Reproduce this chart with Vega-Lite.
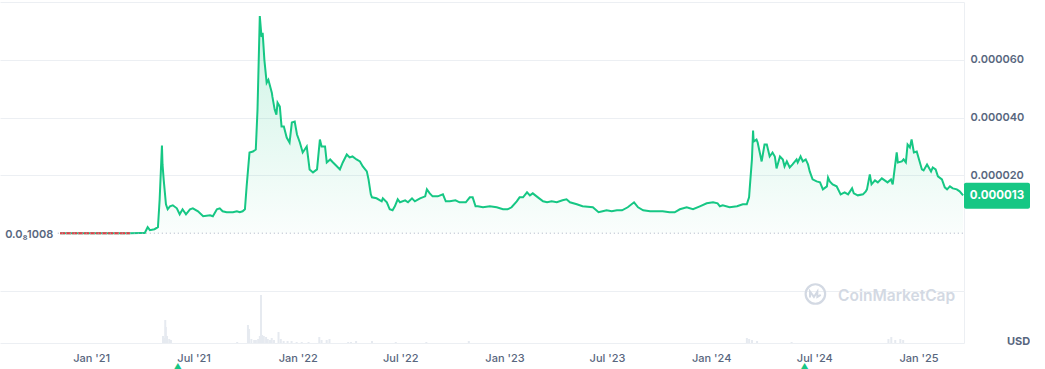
{
  "$schema": "https://vega.github.io/schema/vega-lite/v6.json",
  "padding": {"left": 0, "top": 2, "right": 0, "bottom": 0},
  "background": "white",
  "spacing": 0,
  "bounds": "flush",
  "config": {"view": {"stroke": null}, "font": "Inter"},
  "datasets": {
    "price": [
      {"date": "2020-11-15", "price": 1.008e-9},
      {"date": "2020-12-20", "price": 9.9e-10},
      {"date": "2021-01-23", "price": 1.0e-9},
      {"date": "2021-02-27", "price": 9.9e-10},
      {"date": "2021-03-17", "price": 1.0e-9},
      {"date": "2021-04-03", "price": 4e-8},
      {"date": "2021-04-12", "price": 1e-7},
      {"date": "2021-04-17", "price": 2.07e-6},
      {"date": "2021-04-21", "price": 1.03e-6},
      {"date": "2021-04-29", "price": 1.38e-6},
      {"date": "2021-05-05", "price": 2.07e-6},
      {"date": "2021-05-08", "price": 1.172e-5},
      {"date": "2021-05-12", "price": 3.034e-5},
      {"date": "2021-05-13", "price": 2.379e-5},
      {"date": "2021-05-15", "price": 1.862e-5},
      {"date": "2021-05-19", "price": 1.0e-5},
      {"date": "2021-05-22", "price": 8.28e-6},
      {"date": "2021-05-26", "price": 9.31e-6},
      {"date": "2021-05-31", "price": 9.65e-6},
      {"date": "2021-06-07", "price": 8.62e-6},
      {"date": "2021-06-12", "price": 6.55e-6},
      {"date": "2021-06-17", "price": 8.28e-6},
      {"date": "2021-06-23", "price": 6.55e-6},
      {"date": "2021-06-30", "price": 8.28e-6},
      {"date": "2021-07-05", "price": 8.62e-6},
      {"date": "2021-07-14", "price": 7.59e-6},
      {"date": "2021-07-23", "price": 5.86e-6},
      {"date": "2021-08-04", "price": 6.21e-6},
      {"date": "2021-08-09", "price": 5.86e-6},
      {"date": "2021-08-16", "price": 8.28e-6},
      {"date": "2021-08-21", "price": 8.62e-6},
      {"date": "2021-08-26", "price": 7.59e-6},
      {"date": "2021-09-02", "price": 7.24e-6},
      {"date": "2021-09-13", "price": 7.24e-6},
      {"date": "2021-09-20", "price": 7.59e-6},
      {"date": "2021-09-25", "price": 7.24e-6},
      {"date": "2021-09-30", "price": 7.59e-6},
      {"date": "2021-10-04", "price": 8.28e-6},
      {"date": "2021-10-07", "price": 1.621e-5},
      {"date": "2021-10-12", "price": 2.793e-5},
      {"date": "2021-10-18", "price": 2.827e-5},
      {"date": "2021-10-23", "price": 2.896e-5},
      {"date": "2021-10-26", "price": 4.276e-5},
      {"date": "2021-10-30", "price": 7.517e-5},
      {"date": "2021-11-02", "price": 6.793e-5},
      {"date": "2021-11-04", "price": 6.931e-5},
      {"date": "2021-11-07", "price": 6.0e-5},
      {"date": "2021-11-11", "price": 5.207e-5},
      {"date": "2021-11-14", "price": 5.31e-5},
      {"date": "2021-11-20", "price": 4.862e-5},
      {"date": "2021-11-21", "price": 4.724e-5},
      {"date": "2021-11-25", "price": 4.276e-5},
      {"date": "2021-11-28", "price": 4.103e-5},
      {"date": "2021-11-30", "price": 4.517e-5},
      {"date": "2021-12-04", "price": 4.379e-5},
      {"date": "2021-12-07", "price": 3.69e-5},
      {"date": "2021-12-11", "price": 3.69e-5},
      {"date": "2021-12-16", "price": 3.31e-5},
      {"date": "2021-12-21", "price": 3.138e-5},
      {"date": "2021-12-25", "price": 3.827e-5},
      {"date": "2021-12-30", "price": 3.862e-5},
      {"date": "2022-01-03", "price": 3.414e-5},
      {"date": "2022-01-08", "price": 3.138e-5},
      {"date": "2022-01-13", "price": 2.793e-5},
      {"date": "2022-01-20", "price": 3.0e-5},
      {"date": "2022-01-25", "price": 2.207e-5},
      {"date": "2022-01-31", "price": 2.103e-5},
      {"date": "2022-02-07", "price": 2.207e-5},
      {"date": "2022-02-12", "price": 3.241e-5},
      {"date": "2022-02-15", "price": 3.0e-5},
      {"date": "2022-02-21", "price": 3.0e-5},
      {"date": "2022-02-24", "price": 2.448e-5},
      {"date": "2022-03-02", "price": 2.552e-5},
      {"date": "2022-03-07", "price": 2.448e-5},
      {"date": "2022-03-14", "price": 2.31e-5},
      {"date": "2022-03-19", "price": 2.207e-5},
      {"date": "2022-03-24", "price": 2.448e-5},
      {"date": "2022-03-31", "price": 2.724e-5},
      {"date": "2022-04-05", "price": 2.621e-5},
      {"date": "2022-04-10", "price": 2.655e-5},
      {"date": "2022-04-17", "price": 2.552e-5},
      {"date": "2022-04-23", "price": 2.483e-5},
      {"date": "2022-04-28", "price": 2.31e-5},
      {"date": "2022-05-05", "price": 2.138e-5},
      {"date": "2022-05-08", "price": 1.862e-5},
      {"date": "2022-05-12", "price": 1.345e-5},
      {"date": "2022-05-14", "price": 1.241e-5},
      {"date": "2022-05-22", "price": 1.207e-5},
      {"date": "2022-05-31", "price": 1.103e-5},
      {"date": "2022-06-02", "price": 1.207e-5},
      {"date": "2022-06-09", "price": 1.069e-5},
      {"date": "2022-06-14", "price": 8.28e-6},
      {"date": "2022-06-19", "price": 7.93e-6},
      {"date": "2022-06-23", "price": 9.31e-6},
      {"date": "2022-06-28", "price": 1.172e-5},
      {"date": "2022-07-02", "price": 1.069e-5},
      {"date": "2022-07-11", "price": 1.138e-5},
      {"date": "2022-07-16", "price": 1.069e-5},
      {"date": "2022-07-23", "price": 1.207e-5},
      {"date": "2022-07-28", "price": 1.103e-5},
      {"date": "2022-08-06", "price": 1.207e-5},
      {"date": "2022-08-15", "price": 1.276e-5},
      {"date": "2022-08-18", "price": 1.517e-5},
      {"date": "2022-08-23", "price": 1.379e-5},
      {"date": "2022-08-28", "price": 1.276e-5},
      {"date": "2022-09-06", "price": 1.276e-5},
      {"date": "2022-09-15", "price": 1.345e-5},
      {"date": "2022-09-20", "price": 1.103e-5},
      {"date": "2022-09-27", "price": 1.103e-5},
      {"date": "2022-10-07", "price": 1.138e-5},
      {"date": "2022-10-14", "price": 1.069e-5},
      {"date": "2022-10-25", "price": 1.069e-5},
      {"date": "2022-11-01", "price": 1.241e-5},
      {"date": "2022-11-06", "price": 1.241e-5},
      {"date": "2022-11-11", "price": 9.31e-6},
      {"date": "2022-11-15", "price": 9.31e-6},
      {"date": "2022-11-24", "price": 8.97e-6},
      {"date": "2022-12-06", "price": 9.31e-6},
      {"date": "2022-12-18", "price": 8.97e-6},
      {"date": "2022-12-29", "price": 8.28e-6},
      {"date": "2023-01-06", "price": 8.28e-6},
      {"date": "2023-01-13", "price": 8.97e-6},
      {"date": "2023-01-22", "price": 1.103e-5},
      {"date": "2023-01-27", "price": 1.241e-5},
      {"date": "2023-02-02", "price": 1.241e-5},
      {"date": "2023-02-09", "price": 1.414e-5},
      {"date": "2023-02-14", "price": 1.31e-5},
      {"date": "2023-02-19", "price": 1.379e-5},
      {"date": "2023-02-28", "price": 1.241e-5},
      {"date": "2023-03-09", "price": 1.103e-5},
      {"date": "2023-03-16", "price": 1.069e-5},
      {"date": "2023-03-24", "price": 1.103e-5},
      {"date": "2023-04-02", "price": 1.069e-5},
      {"date": "2023-04-12", "price": 1.138e-5},
      {"date": "2023-04-19", "price": 1.172e-5},
      {"date": "2023-04-25", "price": 1.069e-5},
      {"date": "2023-05-07", "price": 1.0e-5},
      {"date": "2023-05-17", "price": 9.31e-6},
      {"date": "2023-06-04", "price": 8.97e-6},
      {"date": "2023-06-14", "price": 7.24e-6},
      {"date": "2023-06-21", "price": 7.59e-6},
      {"date": "2023-06-28", "price": 7.93e-6},
      {"date": "2023-07-07", "price": 7.59e-6},
      {"date": "2023-07-16", "price": 7.93e-6},
      {"date": "2023-07-25", "price": 7.93e-6},
      {"date": "2023-08-04", "price": 8.97e-6},
      {"date": "2023-08-15", "price": 1.069e-5},
      {"date": "2023-08-22", "price": 8.97e-6},
      {"date": "2023-08-31", "price": 7.93e-6},
      {"date": "2023-09-12", "price": 7.59e-6},
      {"date": "2023-09-24", "price": 7.59e-6},
      {"date": "2023-10-04", "price": 7.59e-6},
      {"date": "2023-10-16", "price": 7.24e-6},
      {"date": "2023-10-25", "price": 7.24e-6},
      {"date": "2023-11-03", "price": 8.28e-6},
      {"date": "2023-11-15", "price": 8.97e-6},
      {"date": "2023-11-26", "price": 8.28e-6},
      {"date": "2023-12-08", "price": 9.31e-6},
      {"date": "2023-12-20", "price": 1.034e-5},
      {"date": "2023-12-31", "price": 1.069e-5},
      {"date": "2024-01-08", "price": 1.034e-5},
      {"date": "2024-01-12", "price": 9.31e-6},
      {"date": "2024-01-17", "price": 9.65e-6},
      {"date": "2024-01-29", "price": 8.97e-6},
      {"date": "2024-02-11", "price": 9.31e-6},
      {"date": "2024-02-21", "price": 1.0e-5},
      {"date": "2024-02-28", "price": 1.0e-5},
      {"date": "2024-03-03", "price": 1.241e-5},
      {"date": "2024-03-04", "price": 1.517e-5},
      {"date": "2024-03-08", "price": 2.552e-5},
      {"date": "2024-03-10", "price": 3.552e-5},
      {"date": "2024-03-11", "price": 3.172e-5},
      {"date": "2024-03-16", "price": 3.241e-5},
      {"date": "2024-03-18", "price": 3.138e-5},
      {"date": "2024-03-25", "price": 2.483e-5},
      {"date": "2024-03-30", "price": 3.069e-5},
      {"date": "2024-04-03", "price": 3.069e-5},
      {"date": "2024-04-08", "price": 2.655e-5},
      {"date": "2024-04-13", "price": 2.793e-5},
      {"date": "2024-04-17", "price": 2.655e-5},
      {"date": "2024-04-20", "price": 2.241e-5},
      {"date": "2024-04-26", "price": 2.655e-5},
      {"date": "2024-05-01", "price": 2.552e-5},
      {"date": "2024-05-04", "price": 2.31e-5},
      {"date": "2024-05-08", "price": 2.483e-5},
      {"date": "2024-05-13", "price": 2.276e-5},
      {"date": "2024-05-18", "price": 2.379e-5},
      {"date": "2024-05-25", "price": 2.552e-5},
      {"date": "2024-05-27", "price": 2.448e-5},
      {"date": "2024-06-01", "price": 2.655e-5},
      {"date": "2024-06-05", "price": 2.483e-5},
      {"date": "2024-06-10", "price": 2.552e-5},
      {"date": "2024-06-14", "price": 2.379e-5},
      {"date": "2024-06-17", "price": 2.138e-5},
      {"date": "2024-06-22", "price": 1.862e-5},
      {"date": "2024-06-29", "price": 1.793e-5},
      {"date": "2024-07-05", "price": 1.759e-5},
      {"date": "2024-07-10", "price": 1.517e-5},
      {"date": "2024-07-17", "price": 1.621e-5},
      {"date": "2024-07-19", "price": 1.931e-5},
      {"date": "2024-07-22", "price": 1.793e-5},
      {"date": "2024-07-27", "price": 1.69e-5},
      {"date": "2024-08-03", "price": 1.621e-5},
      {"date": "2024-08-10", "price": 1.345e-5},
      {"date": "2024-08-17", "price": 1.414e-5},
      {"date": "2024-08-23", "price": 1.345e-5},
      {"date": "2024-08-30", "price": 1.552e-5},
      {"date": "2024-09-02", "price": 1.379e-5},
      {"date": "2024-09-09", "price": 1.31e-5},
      {"date": "2024-09-18", "price": 1.345e-5},
      {"date": "2024-09-23", "price": 1.448e-5},
      {"date": "2024-09-25", "price": 1.517e-5},
      {"date": "2024-09-30", "price": 2.034e-5},
      {"date": "2024-10-03", "price": 1.69e-5},
      {"date": "2024-10-09", "price": 1.828e-5},
      {"date": "2024-10-14", "price": 1.759e-5},
      {"date": "2024-10-21", "price": 1.897e-5},
      {"date": "2024-10-26", "price": 1.828e-5},
      {"date": "2024-10-31", "price": 1.759e-5},
      {"date": "2024-11-06", "price": 1.862e-5},
      {"date": "2024-11-09", "price": 1.69e-5},
      {"date": "2024-11-16", "price": 2.793e-5},
      {"date": "2024-11-18", "price": 2.448e-5},
      {"date": "2024-11-25", "price": 2.483e-5},
      {"date": "2024-11-28", "price": 2.552e-5},
      {"date": "2024-12-02", "price": 2.448e-5},
      {"date": "2024-12-05", "price": 3.069e-5},
      {"date": "2024-12-09", "price": 2.966e-5},
      {"date": "2024-12-12", "price": 3.241e-5},
      {"date": "2024-12-16", "price": 2.793e-5},
      {"date": "2024-12-21", "price": 2.827e-5},
      {"date": "2024-12-25", "price": 2.552e-5},
      {"date": "2024-12-30", "price": 2.207e-5},
      {"date": "2025-01-02", "price": 2.172e-5},
      {"date": "2025-01-08", "price": 2.379e-5},
      {"date": "2025-01-11", "price": 2.276e-5},
      {"date": "2025-01-15", "price": 2.138e-5},
      {"date": "2025-01-18", "price": 2.276e-5},
      {"date": "2025-01-23", "price": 2.207e-5},
      {"date": "2025-01-27", "price": 1.966e-5},
      {"date": "2025-02-03", "price": 1.862e-5},
      {"date": "2025-02-08", "price": 1.586e-5},
      {"date": "2025-02-12", "price": 1.517e-5},
      {"date": "2025-02-17", "price": 1.621e-5},
      {"date": "2025-02-22", "price": 1.552e-5},
      {"date": "2025-03-01", "price": 1.517e-5},
      {"date": "2025-03-06", "price": 1.448e-5},
      {"date": "2025-03-12", "price": 1.31e-5}
    ],
    "volume": [
      {"date": "2021-05-08", "vol": 7},
      {"date": "2021-05-10", "vol": 5},
      {"date": "2021-05-12", "vol": 23},
      {"date": "2021-05-13", "vol": 16},
      {"date": "2021-05-15", "vol": 7},
      {"date": "2021-05-19", "vol": 4},
      {"date": "2021-05-22", "vol": 3},
      {"date": "2021-09-16", "vol": 1},
      {"date": "2021-10-05", "vol": 18},
      {"date": "2021-10-07", "vol": 14},
      {"date": "2021-10-11", "vol": 4},
      {"date": "2021-10-16", "vol": 3},
      {"date": "2021-10-19", "vol": 3},
      {"date": "2021-10-23", "vol": 4},
      {"date": "2021-10-26", "vol": 7},
      {"date": "2021-10-28", "vol": 48},
      {"date": "2021-10-30", "vol": 8},
      {"date": "2021-11-02", "vol": 7},
      {"date": "2021-11-06", "vol": 6},
      {"date": "2021-11-09", "vol": 4},
      {"date": "2021-11-13", "vol": 3},
      {"date": "2021-11-16", "vol": 5},
      {"date": "2021-11-20", "vol": 3},
      {"date": "2021-11-28", "vol": 11},
      {"date": "2021-12-02", "vol": 4},
      {"date": "2021-12-07", "vol": 2},
      {"date": "2021-12-14", "vol": 2},
      {"date": "2021-12-21", "vol": 2},
      {"date": "2021-12-30", "vol": 1},
      {"date": "2022-01-08", "vol": 1},
      {"date": "2022-01-20", "vol": 1},
      {"date": "2022-02-08", "vol": 6},
      {"date": "2022-02-12", "vol": 3},
      {"date": "2022-02-21", "vol": 3},
      {"date": "2022-02-26", "vol": 4},
      {"date": "2022-03-31", "vol": 1},
      {"date": "2022-04-05", "vol": 1},
      {"date": "2022-04-14", "vol": 2},
      {"date": "2022-05-12", "vol": 2},
      {"date": "2022-06-23", "vol": 1},
      {"date": "2022-08-16", "vol": 1},
      {"date": "2022-10-30", "vol": 2},
      {"date": "2024-03-04", "vol": 5},
      {"date": "2024-03-08", "vol": 4},
      {"date": "2024-03-13", "vol": 3},
      {"date": "2024-03-22", "vol": 2},
      {"date": "2024-05-22", "vol": 1},
      {"date": "2024-11-09", "vol": 4},
      {"date": "2024-11-14", "vol": 6},
      {"date": "2024-11-21", "vol": 3},
      {"date": "2024-11-30", "vol": 4},
      {"date": "2024-12-05", "vol": 3}
    ]
  },
  "vconcat": [
    {
      "width": 964,
      "height": 289,
      "layer": [
        {
          "data": {"name": "price"},
          "mark": {
            "type": "area",
            "line": false,
            "fill": {
              "gradient": "linear",
              "x1": 0, "y1": 0, "x2": 0, "y2": 1,
              "stops": [
                {"offset": 0, "color": "rgba(22,199,132,0.22)"},
                {"offset": 1, "color": "rgba(22,199,132,0.02)"}
              ]
            }
          },
          "encoding": {
            "x": {
              "field": "date", "type": "temporal", "axis": null,
              "scale": {"type": "utc", "domain": [{"year": 2020, "month": 8, "date": 2, "utc": true}, {"year": 2025, "month": 3, "date": 13, "hours": 14, "utc": true}]}
            },
            "y": {
              "field": "price", "type": "quantitative", "stack": null,
              "scale": {"domain": [-0.00002, 0.00008], "nice": false, "zero": false},
              "axis": {
                "orient": "right",
                "title": null,
                "values": [-0.00002, 0.00002, 0.00004, 0.00006, 0.00008],
                "labelExpr": "datum.value > 0.00001 && datum.value < 0.00007 ? format(datum.value, '.6f') : ''",
                "grid": true,
                "gridColor": "#eceff3",
                "ticks": false,
                "domain": true,
                "domainColor": "#eceff3",
                "labelPadding": 6,
                "labelColor": "#58667e",
                "labelFontSize": 11,
                "labelFontWeight": 600,
                "labelFont": "Inter"
              }
            }
          }
        },
        {
          "data": {"name": "price"},
          "mark": {"type": "line", "color": "#16c784", "strokeWidth": 2},
          "encoding": {
            "x": {"field": "date", "type": "temporal", "axis": null},
            "y": {"field": "price", "type": "quantitative"}
          }
        },
        {
          "data": {"name": "price"},
          "transform": [{"filter": "datum.price <= 1.01e-9"}],
          "mark": {"type": "line", "color": "#ea3943", "strokeWidth": 2, "strokeDash": [5, 1]},
          "encoding": {
            "x": {"field": "date", "type": "temporal", "axis": null},
            "y": {"field": "price", "type": "quantitative"}
          }
        },
        {
          "data": {"values": [{"base": 1.008e-9}]},
          "mark": {"type": "rule", "color": "#a6b0c3", "strokeWidth": 1, "strokeDash": [1, 3]},
          "encoding": {
            "x": {"datum": {"year": 2020, "month": 11, "date": 11, "utc": true}, "type": "temporal", "axis": null},
            "x2": {"datum": {"year": 2025, "month": 3, "date": 13, "hours": 14, "utc": true}},
            "y": {"field": "base", "type": "quantitative"}
          }
        },
        {
          "data": {"values": [{"base": 1.008e-9, "label": "0.0₈1008"}]},
          "mark": {"type": "text", "align": "left", "baseline": "middle", "fontSize": 11, "fontWeight": 600, "color": "#58667e", "font": "Inter", "dy": 2},
          "encoding": {
            "x": {"datum": {"year": 2020, "month": 8, "date": 11, "utc": true}, "type": "temporal", "axis": null},
            "y": {"field": "base", "type": "quantitative"},
            "text": {"field": "label"}
          }
        },
        {
          "data": {"values": [{"last": 1.3e-5}]},
          "mark": {
            "type": "point", "filled": true, "color": "#16c784", "opacity": 1, "size": 4356, "xOffset": 33,
            "shape": "M-0.94,-0.394H0.94A0.06,0.06,0,0,1,1,-0.334V0.334A0.06,0.06,0,0,1,0.94,0.394H-0.94A0.06,0.06,0,0,1,-1,0.334V-0.334A0.06,0.06,0,0,1,-0.94,-0.394Z"
          },
          "encoding": {
            "x": {"datum": {"year": 2025, "month": 3, "date": 13, "hours": 14, "utc": true}, "type": "temporal", "axis": null},
            "y": {"field": "last", "type": "quantitative"}
          }
        },
        {
          "data": {"values": [{"last": 1.3e-5}]},
          "mark": {"type": "text", "align": "center", "baseline": "middle", "fontSize": 11.5, "fontWeight": 700, "color": "white", "font": "Inter", "xOffset": 33},
          "encoding": {
            "x": {"datum": {"year": 2025, "month": 3, "date": 13, "hours": 14, "utc": true}, "type": "temporal", "axis": null},
            "y": {"field": "last", "type": "quantitative"},
            "text": {"field": "last", "type": "quantitative", "format": ".6f"}
          }
        }
      ]
    },
    {
      "width": 964,
      "height": 52,
      "layer": [
        {
          "data": {"name": "volume"},
          "mark": {"type": "bar", "width": 2, "color": "#e6eaf0"},
          "encoding": {
            "x": {
              "field": "date", "type": "temporal",
              "scale": {"type": "utc", "domain": [{"year": 2020, "month": 8, "date": 2, "utc": true}, {"year": 2025, "month": 3, "date": 13, "hours": 14, "utc": true}]},
              "axis": {
                "title": null,
                "values": [
                  {"year": 2021, "month": 1, "date": 1, "utc": true},
                  {"year": 2021, "month": 7, "date": 1, "utc": true},
                  {"year": 2022, "month": 1, "date": 1, "utc": true},
                  {"year": 2022, "month": 7, "date": 1, "utc": true},
                  {"year": 2023, "month": 1, "date": 1, "utc": true},
                  {"year": 2023, "month": 7, "date": 1, "utc": true},
                  {"year": 2024, "month": 1, "date": 1, "utc": true},
                  {"year": 2024, "month": 7, "date": 1, "utc": true},
                  {"year": 2025, "month": 1, "date": 1, "utc": true}
                ],
                "format": "%b '%y",
                "grid": false,
                "ticks": false,
                "domain": true,
                "domainColor": "#eceff3",
                "labelPadding": 9,
                "labelColor": "#58667e",
                "labelFontSize": 11,
                "labelFontWeight": 500,
                "labelFont": "Inter"
              }
            },
            "y": {
              "field": "vol", "type": "quantitative",
              "scale": {"domain": [0, 52], "nice": false},
              "axis": {
                "orient": "right",
                "labels": false,
                "ticks": false,
                "grid": false,
                "domain": true,
                "domainColor": "#eceff3",
                "title": "USD",
                "titleAngle": 0,
                "titleX": 54,
                "titleY": 50,
                "titleAlign": "center",
                "titleBaseline": "middle",
                "titleColor": "#58667e",
                "titleFontSize": 11,
                "titleFontWeight": 700,
                "titleFont": "Inter"
              }
            }
          }
        },
        {
          "data": {"values": [{"wm": "CoinMarketCap"}]},
          "mark": {"type": "text", "align": "left", "baseline": "middle", "fontSize": 15.5, "fontWeight": 600, "color": "#d3d9e3", "font": "Inter"},
          "encoding": {
            "x": {"datum": {"year": 2024, "month": 8, "date": 12, "utc": true}, "type": "temporal"},
            "y": {"datum": 47, "type": "quantitative"},
            "text": {"field": "wm"}
          }
        },
        {
          "data": {"values": [{"logo": "CoinMarketCap"}]},
          "mark": {"type": "point", "shape": "circle", "filled": false, "size": 380, "stroke": "#d3d9e3", "strokeWidth": 2.2, "opacity": 1},
          "encoding": {
            "x": {"datum": {"year": 2024, "month": 7, "date": 3, "utc": true}, "type": "temporal"},
            "y": {"datum": 49, "type": "quantitative"}
          }
        },
        {
          "data": {"values": [{"logo": "CoinMarketCap"}]},
          "mark": {"type": "point", "shape": "M-0.55,0.35L-0.55,-0.25L-0.15,0.3L0.2,-0.25L0.2,0.3L0.55,0.1", "filled": false, "size": 380, "stroke": "#d3d9e3", "strokeWidth": 2, "opacity": 1},
          "encoding": {
            "x": {"datum": {"year": 2024, "month": 7, "date": 3, "utc": true}, "type": "temporal"},
            "y": {"datum": 49, "type": "quantitative"}
          }
        },
        {
          "data": {"values": [{"d": "2021-06-03"}, {"d": "2024-06-14"}]},
          "mark": {"type": "text", "text": "▲", "fontSize": 9, "color": "#16c784", "baseline": "middle", "dy": 24},
          "encoding": {
            "x": {"field": "d", "type": "temporal"},
            "y": {"datum": 0, "type": "quantitative"}
          }
        }
      ]
    }
  ]
}
